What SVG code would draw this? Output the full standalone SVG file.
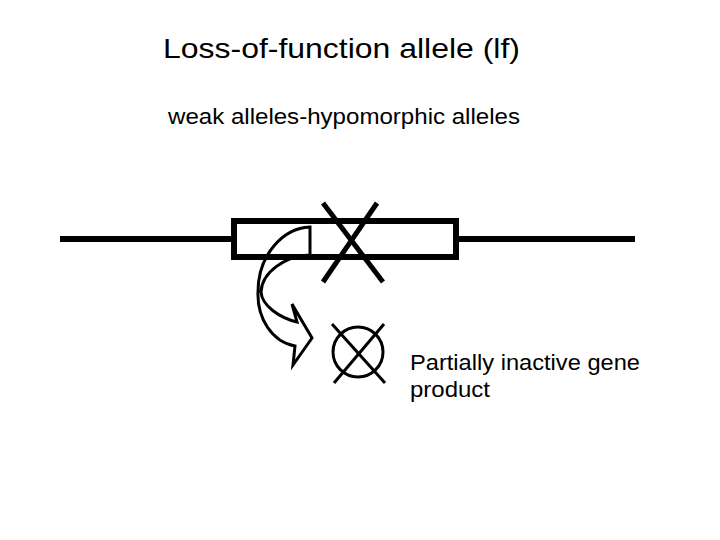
<svg xmlns="http://www.w3.org/2000/svg" width="720" height="540" viewBox="0 0 720 540">
<style>
.t{font-family:"Liberation Sans",Arial,sans-serif;fill:#000}
.s{stroke:#000;fill:none}
</style>
<rect width="720" height="540" fill="#fff"/>
<text class="t" x="163" y="58" font-size="28" textLength="357" lengthAdjust="spacingAndGlyphs">Loss-of-function allele (lf)</text>
<text class="t" x="168" y="124" font-size="22" textLength="352" lengthAdjust="spacingAndGlyphs">weak alleles-hypomorphic alleles</text>
<g id="gene">
<line class="s" stroke-width="6" x1="60" y1="239" x2="233" y2="239"/>
<line class="s" stroke-width="6" x1="457" y1="239" x2="635" y2="239"/>
<rect class="s" stroke-width="6" x="234" y="221" width="222" height="36"/>
</g>
<g id="mutation">
<line class="s" stroke-width="5" x1="323" y1="203" x2="383" y2="282"/>
<line class="s" stroke-width="5" x1="377" y1="203" x2="323" y2="282"/>
</g>
<g id="connectors">
<path class="s" stroke-width="3" fill="#fff" d="M310,227 L310,255 C285,256 262,272 261,292 C262,306 280,318 297,322 L292,304 L312,338 L293,365 L295,346 C272,342 257,318 258,292 C258,255 283,228 310,227 Z"/>
</g>
<g id="product">
<circle class="s" stroke-width="3" cx="358" cy="352" r="25"/>
<line class="s" stroke-width="3" x1="332" y1="324" x2="385" y2="383"/>
<line class="s" stroke-width="3" x1="384" y1="324" x2="334" y2="383"/>
</g>
<text class="t" x="410" y="370" font-size="22" textLength="230" lengthAdjust="spacingAndGlyphs">Partially inactive gene</text>
<text class="t" x="410" y="397" font-size="22" textLength="80" lengthAdjust="spacingAndGlyphs">product</text>
</svg>
